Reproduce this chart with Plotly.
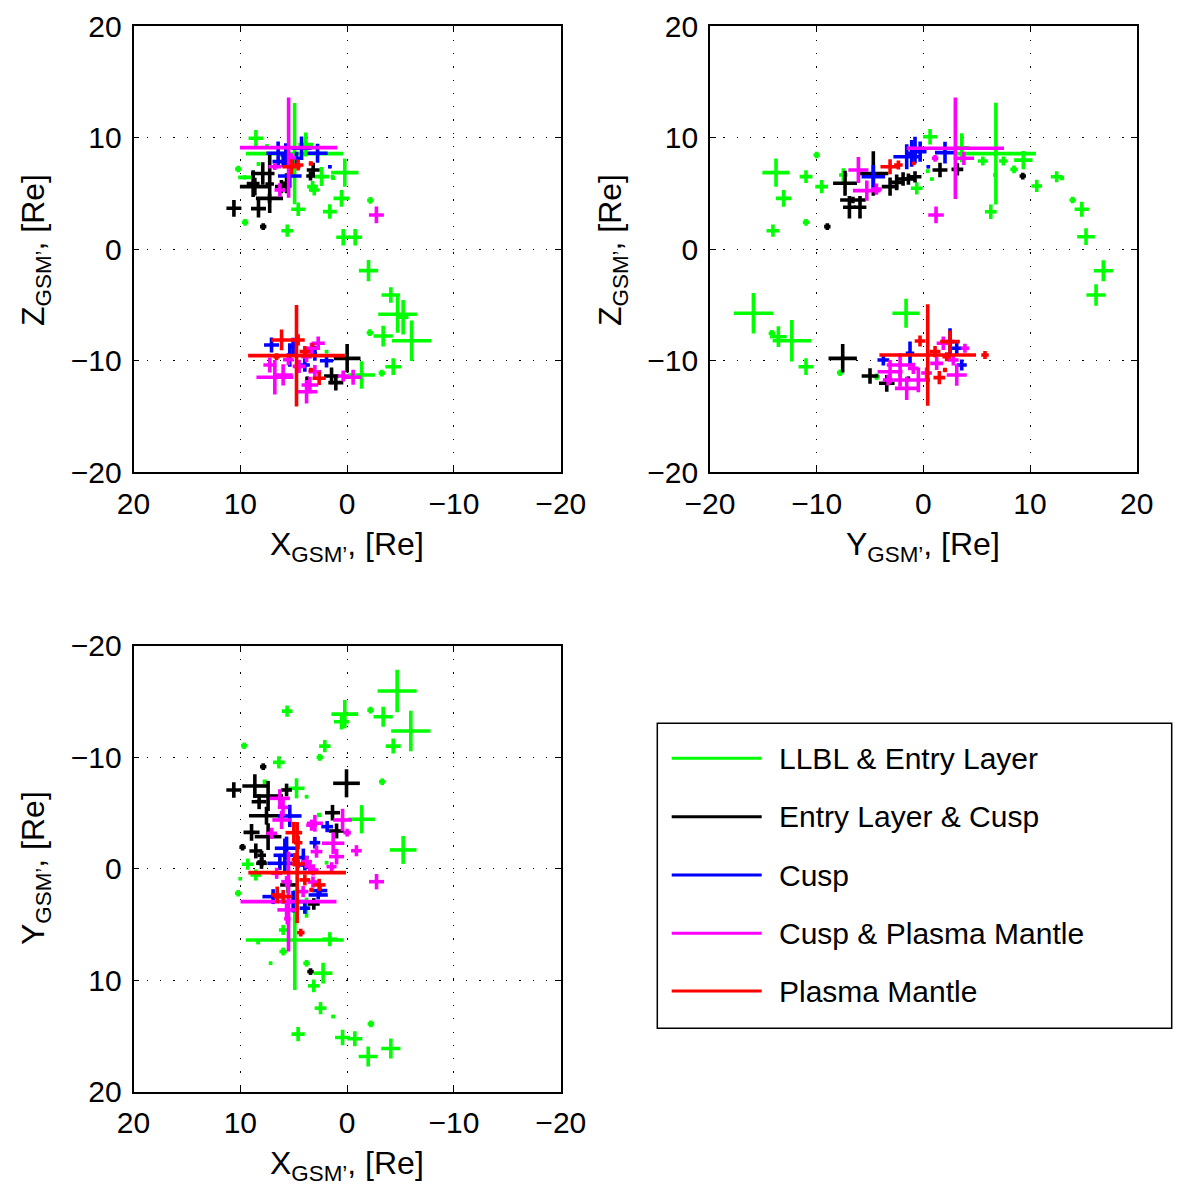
import plotly.graph_objects as go

# ---------------- categories ----------------
CATEGORIES = ["LLBL & Entry Layer", "Entry Layer & Cusp", "Cusp", "Cusp & Plasma Mantle", "Plasma Mantle"]
COLORS = ["#00FF00", "#000000", "#0000FF", "#FF00FF", "#FF0000"]
TICKS = [-20, -10, 0, 10, 20]

# ---------------- panel 1 : X vs Z  (x, z, dx, dz) ----------------
XZ_LLBL = [(8.54, 9.96, 0.69, 0.75), (4.92, 8.58, 4.55, 4.55), (3.87, 9.4, 0.7, 1.08), (0.22, 6.88, 1.28, 1.27),
           (0.53, 4.57, 0.75, 0.75), (1.62, 3.38, 0.65, 0.65), (4.58, 3.59, 0.65, 0.6), (5.61, 1.67, 0.55, 0.55),
           (9.56, 2.42, 0.3, 0.3), (10.19, 7.2, 0.3, 0.3), (-2.18, 4.39, 0.3, 0.3), (0.37, 1.08, 0.65, 0.75),
           (-0.75, 1.08, 0.65, 0.75), (-2.0, -1.91, 0.9, 0.95), (-4.09, -4.1, 0.87, 0.7), (-4.72, -5.83, 1.81, 1.65),
           (-5.24, -6.1, 0.5, 1.55), (-6.03, -8.2, 1.84, 1.82), (-3.37, -7.78, 0.9, 0.93), (-2.13, -7.48, 0.3, 0.3),
           (-4.31, -10.53, 0.73, 0.75), (-3.25, -11.1, 0.3, 0.3), (-1.35, -11.27, 1.25, 1.24), (1.93, -9.18, 0.15, 0.15),
           (2.4, 6.52, 0.7, 0.85), (3.24, 5.62, 0.5, 0.5), (3.08, 5.32, 0.5, 0.5), (8.3, 7.65, 0.15, 0.15),
           (7.5, 9.27, 0.15, 0.15), (1.37, 6.5, 0.15, 0.15), (9.6, 6.45, 0.6, 0.2), (1.31, 6.37, 0.15, 0.15)]
XZ_ELC = [(10.6, 3.68, 0.7, 0.75), (8.3, 3.65, 0.7, 0.8), (7.27, 4.57, 1.27, 0.4), (7.25, 5.85, 0.4, 2.6),
          (8.64, 5.62, 1.4, 0.8), (7.9, 6.8, 1.1, 1.0), (8.8, 5.9, 0.6, 1.2), (6.15, 5.62, 0.6, 0.6),
          (5.67, 5.92, 0.4, 0.9), (3.18, 7.11, 0.6, 0.65), (3.43, 6.57, 0.4, 0.4), (7.86, 2.03, 0.3, 0.3),
          (0.0, -9.78, 1.25, 1.28), (1.46, -11.36, 0.7, 0.75), (1.06, -11.96, 0.7, 0.7), (3.74, -11.57, 0.15, 0.15)]
XZ_CUSP = [(6.46, 8.61, 1.1, 1.05), (5.74, 8.46, 0.5, 1.05), (4.27, 9.06, 0.94, 1.05), (2.77, 8.61, 0.94, 0.85),
           (5.99, 7.86, 1.0, 0.5), (5.37, 6.57, 1.1, 1.05), (4.74, 8.16, 0.6, 0.6), (1.62, 7.41, 0.15, 0.15),
           (7.08, -8.58, 0.7, 0.67), (5.37, -9.48, 0.3, 1.05), (3.96, -10.38, 0.47, 0.6), (1.93, -9.99, 0.62, 0.6),
           (3.02, -9.33, 0.2, 0.67), (5.06, -8.73, 0.3, 0.8)]
XZ_CPM = [(5.48, 9.12, 4.55, 4.5), (6.3, 5.32, 0.5, 0.6), (6.77, 7.41, 0.6, 0.3), (5.2, 8.2, 0.4, 0.4),
          (-2.74, 3.08, 0.7, 0.75), (6.77, -11.48, 1.72, 1.55), (5.99, -11.27, 0.9, 0.95), (7.24, -10.38, 0.6, 0.67),
          (3.8, -12.77, 1.0, 1.05), (3.49, -12.17, 0.78, 0.75), (2.71, -8.43, 0.62, 0.6), (3.34, -8.88, 0.5, 0.5),
          (3.8, -9.63, 0.5, 0.5), (3.02, -10.98, 0.6, 0.6), (-0.56, -11.48, 0.78, 0.67), (0.37, -11.36, 0.5, 0.5),
          (4.5, -10.5, 0.6, 0.6), (5.5, -9.9, 0.5, 0.5)]
XZ_PM = [(5.21, 7.41, 0.85, 0.67), (4.59, 7.56, 0.5, 0.5), (3.4, 7.7, 0.2, 0.2), (4.74, -9.54, 4.53, 4.55),
         (6.14, -8.13, 0.94, 0.93), (4.59, -8.13, 0.62, 0.5), (6.61, -9.63, 0.3, 0.3), (3.96, -9.18, 0.5, 0.5),
         (3.4, -10.83, 0.2, 0.2), (2.62, -11.57, 0.62, 0.6), (3.24, -8.58, 0.15, 0.15)]

# ---------------- panel 2 : Y vs Z  (y, z, dy, dz) ----------------
YZ_LLBL = [(-13.81, 6.88, 1.28, 1.27), (-11.0, 6.52, 0.6, 0.57), (-10.0, 8.46, 0.3, 0.3), (-9.53, 5.62, 0.6, 0.6),
           (-13.1, 4.57, 0.73, 0.75), (-14.1, 1.67, 0.6, 0.55), (-11.0, 2.42, 0.3, 0.3), (-7.5, 6.66, 0.4, 0.6),
           (0.63, 10.1, 0.65, 0.7), (-0.62, 5.47, 0.55, 0.55), (0.4, 7.0, 0.15, 0.15), (0.8, 6.3, 0.15, 0.15),
           (6.8, 8.58, 3.75, 4.56), (3.6, 9.1, 0.7, 1.3), (5.57, 7.92, 0.47, 0.4), (7.5, 7.92, 0.4, 0.4),
           (8.5, 7.17, 0.35, 0.35), (9.37, 8.0, 0.86, 0.82), (6.72, 6.66, 0.15, 0.15), (6.32, 3.37, 0.55, 0.65),
           (10.63, 5.68, 0.5, 0.55), (12.5, 6.51, 0.55, 0.5), (13.0, 6.4, 0.2, 0.2), (14.0, 4.42, 0.3, 0.3),
           (14.85, 3.59, 0.67, 0.67), (15.25, 1.13, 0.83, 0.75), (16.87, -1.92, 0.9, 0.94), (16.19, -4.1, 0.9, 0.97),
           (-15.93, -5.74, 1.84, 1.82), (-12.33, -8.2, 1.8, 1.87), (-13.59, -7.84, 0.78, 0.93), (-14.2, -7.53, 0.3, 0.3),
           (-11.0, -10.53, 0.7, 0.75), (-7.8, -11.07, 0.3, 0.3), (-1.62, -5.74, 1.28, 1.3), (-4.37, -11.43, 0.3, 0.3)]
YZ_ELC = [(-4.69, 6.8, 1.41, 2.0), (-7.34, 5.92, 1.12, 1.12), (-6.6, 4.42, 1.2, 0.3), (-6.93, 3.77, 0.6, 1.0),
          (-5.94, 3.77, 0.6, 1.0), (-9.0, 2.03, 0.3, 0.3), (-3.12, 5.62, 0.78, 0.82), (-2.5, 6.0, 0.6, 0.7),
          (-1.9, 6.3, 0.6, 0.6), (-1.4, 6.3, 0.6, 0.5), (-0.78, 6.5, 0.6, 0.5), (1.56, 7.11, 0.7, 0.65),
          (3.19, 7.17, 0.55, 0.55), (9.32, 6.57, 0.3, 0.3), (-7.56, -9.78, 1.33, 1.28), (-5.0, -11.36, 0.78, 0.7),
          (-3.43, -12.02, 0.73, 0.75), (-1.4, -11.57, 0.15, 0.15)]
YZ_CUSP = [(-4.69, 6.51, 1.1, 1.05), (-1.56, 8.3, 1.25, 1.12), (-0.78, 8.9, 0.5, 1.2), (-1.09, 8.61, 0.5, 1.2),
           (-0.3, 8.76, 0.6, 0.9), (2.03, 8.67, 0.94, 0.97), (0.47, 7.41, 0.15, 0.15), (-3.75, -9.93, 0.55, 0.5),
           (-1.25, -9.33, 0.4, 1.05), (2.5, -8.28, 0.4, 1.2), (3.13, -8.88, 0.5, 0.5), (3.6, -10.38, 0.47, 0.5)]
YZ_CPM = [(3.0, 9.06, 4.56, 4.55), (1.19, 3.08, 0.73, 0.75), (3.8, 8.16, 0.95, 0.6), (1.1, 8.16, 0.3, 0.3),
          (-6.09, 7.11, 0.94, 1.17), (-5.3, 5.26, 1.3, 0.9), (-4.4, 5.4, 0.5, 0.5), (-1.56, -12.47, 1.1, 1.05),
          (-0.47, -11.72, 1.1, 1.1), (-3.12, -10.98, 1.17, 1.05), (-2.18, -10.38, 1.25, 1.05), (3.13, -11.27, 0.94, 0.97),
          (1.87, -8.43, 0.62, 0.6), (3.9, -8.88, 0.4, 0.4), (2.81, -9.93, 0.5, 0.5), (1.25, -10.23, 0.6, 0.6),
          (-0.94, -10.68, 0.5, 0.5), (0.3, -11.1, 0.5, 0.5), (-2.18, -11.72, 0.6, 0.6), (-3.3, -11.72, 0.5, 0.5)]
YZ_PM = [(-3.12, 7.41, 0.9, 0.67), (-2.34, 7.56, 0.4, 0.4), (-0.9, 7.7, 0.15, 0.15), (0.41, -9.48, 4.53, 4.55),
         (-0.31, -8.22, 0.5, 0.5), (2.5, -8.28, 0.92, 1.0), (1.1, -9.18, 0.5, 0.5), (2.19, -9.63, 0.4, 0.4),
         (5.78, -9.48, 0.35, 0.35), (2.03, -10.83, 0.2, 0.2), (1.5, -11.51, 0.55, 0.6)]

# ---------------- panel 3 : X vs Y  (x, y, dx, dy) ----------------
XY_LLBL = [(-4.68, -15.94, 1.83, 1.9), (-5.96, -12.35, 1.84, 1.82), (0.22, -13.87, 1.25, 1.27), (0.53, -13.18, 0.7, 0.7),
           (-3.37, -13.63, 0.9, 0.9), (-2.19, -14.23, 0.3, 0.3), (-4.31, -11.0, 0.7, 0.67), (5.62, -14.14, 0.5, 0.5),
           (9.64, -11.03, 0.3, 0.3), (2.09, -11.0, 0.53, 0.55), (2.56, -9.99, 0.3, 0.3), (6.39, -9.54, 0.55, 0.55),
           (-3.28, -7.8, 0.3, 0.3), (4.74, -7.21, 0.75, 0.9), (7.71, -7.8, 0.2, 0.2), (3.8, -6.46, 0.15, 0.15),
           (-1.35, -4.43, 1.25, 1.27), (2.62, -4.82, 0.2, 0.2), (-5.24, -1.68, 1.25, 1.25), (9.3, -0.4, 0.55, 0.5),
           (8.55, 0.57, 0.5, 0.5), (10.2, 2.21, 0.3, 0.3), (10.0, 0.9, 0.15, 0.15), (4.9, 6.4, 4.59, 4.5),
           (1.62, 6.33, 0.7, 0.63), (8.33, 6.63, 0.15, 0.15), (5.99, 5.5, 0.4, 0.45), (5.99, 7.44, 0.35, 0.35),
           (7.17, 8.49, 0.15, 0.15), (3.8, 8.49, 0.3, 0.3), (2.25, 9.38, 0.87, 0.93), (3.12, 10.52, 0.55, 0.57),
           (2.49, 12.52, 0.55, 0.55), (1.31, 13.27, 0.15, 0.15), (-2.22, 13.93, 0.3, 0.3), (4.59, 14.85, 0.62, 0.63),
           (0.43, 15.16, 0.7, 0.7), (-0.72, 15.27, 0.7, 0.67), (-1.97, 16.86, 0.89, 0.9), (-4.09, 16.14, 0.9, 0.9),
           (1.93, -0.54, 0.15, 0.15), (3.8, 3.5, 0.2, 0.9)]
XY_ELC = [(0.06, -7.66, 1.25, 1.26), (10.61, -7.06, 0.7, 0.7), (8.64, -7.42, 1.17, 1.05), (7.4, -6.52, 1.4, 1.35),
          (7.86, -9.15, 0.3, 0.3), (8.24, -6.01, 0.7, 0.67), (5.67, -7.06, 0.5, 0.57), (7.55, -4.75, 1.64, 0.8),
          (8.95, -3.26, 0.75, 0.75), (7.4, -2.87, 1.25, 1.2), (9.79, -1.92, 0.3, 0.3), (8.55, -1.59, 0.6, 0.67),
          (8.0, -1.2, 0.4, 0.4), (8.0, -0.6, 0.4, 0.4), (1.37, -5.02, 0.7, 0.7), (0.99, -3.38, 0.7, 0.67),
          (8.02, -0.48, 0.5, 0.5), (5.52, 1.46, 0.75, 0.75), (3.12, 3.17, 0.55, 0.52), (3.43, 9.24, 0.3, 0.3)]
XY_CUSP = [(5.37, -4.73, 1.1, 1.0), (5.67, -1.83, 1.1, 1.05), (3.02, -2.33, 0.5, 0.52), (1.87, -3.77, 0.55, 0.5),
           (4.1, -1.0, 0.5, 0.8), (6.3, -0.48, 1.17, 0.6), (5.83, -1.2, 1.06, 1.5), (6.93, 2.51, 1.0, 0.67),
           (5.06, 2.96, 1.1, 0.97), (2.56, 1.97, 0.7, 0.5), (3.96, 3.55, 0.5, 0.5), (3.96, -0.33, 0.5, 0.5),
           (2.71, 2.36, 0.9, 0.4)]
XY_CPM = [(5.49, 2.96, 4.49, 4.48), (-2.75, 1.17, 0.7, 0.69), (5.67, 3.7, 0.86, 0.82), (3.5, -0.2, 0.5, 0.5),
          (1.46, -0.18, 0.47, 0.4), (4.12, 2.06, 0.5, 0.5), (3.2, 1.2, 0.5, 0.5), (6.3, -6.31, 0.94, 0.82),
          (6.14, -4.37, 0.86, 0.82), (3.02, -4.07, 0.75, 0.75), (0.43, -4.37, 0.87, 1.0), (0.0, -3.23, 0.35, 0.35),
          (1.31, -2.28, 1.05, 0.97), (-0.87, -1.61, 0.5, 0.5), (0.99, -1.08, 0.7, 0.7), (2.87, -1.53, 0.55, 0.55),
          (3.33, -3.9, 0.5, 0.5), (7.07, -3.17, 0.5, 0.5), (6.6, 0.42, 0.5, 0.5), (5.67, 1.17, 0.5, 0.5),
          (3.18, 0.12, 0.5, 0.5), (3.8, -0.63, 0.5, 0.5), (6.0, -5.5, 0.5, 0.8), (5.6, 4.5, 0.3, 0.5)]
XY_PM = [(4.68, 0.36, 4.57, 4.54), (4.99, -3.23, 0.78, 0.97), (4.59, -2.33, 0.4, 0.6), (4.9, -0.8, 0.3, 0.6),
         (4.59, -0.42, 0.62, 0.4), (3.96, 1.01, 0.5, 0.5), (2.62, 1.46, 0.6, 0.55), (3.34, 1.91, 0.2, 0.2),
         (6.55, 2.36, 0.55, 0.75), (5.99, 2.51, 0.85, 0.6), (4.34, 5.74, 0.35, 0.35)]

PANEL_XZ = [XZ_LLBL, XZ_ELC, XZ_CUSP, XZ_CPM, XZ_PM]
PANEL_YZ = [YZ_LLBL, YZ_ELC, YZ_CUSP, YZ_CPM, YZ_PM]
PANEL_XY = [XY_LLBL, XY_ELC, XY_CUSP, XY_CPM, XY_PM]

FONT = "Liberation Sans, Arial, Helvetica, sans-serif"
W, H = 1188, 1193

fig = go.Figure()


def add_panel(groups, xa, ya):
    for rows, color in zip(groups, COLORS):
        xs = [r[0] for r in rows]
        ys = [r[1] for r in rows]
        ex = [r[2] for r in rows]
        ey = [r[3] for r in rows]
        fig.add_trace(go.Scatter(
            x=xs, y=ys, mode="markers", xaxis=xa, yaxis=ya, showlegend=False,
            marker=dict(size=2, color=color, opacity=0),
            error_x=dict(type="data", array=ex, symmetric=True, color=color, thickness=3.6, width=0),
            error_y=dict(type="data", array=ey, symmetric=True, color=color, thickness=3.6, width=0),
            hoverinfo="skip"))


add_panel(PANEL_XZ, "x", "y")
add_panel(PANEL_YZ, "x2", "y2")
add_panel(PANEL_XY, "x3", "y3")


def px_x(p):
    return p / W


def px_y(p):
    return (H - p) / H


axis_common = dict(
    tickvals=TICKS, ticktext=[("\u2212" + str(-t)) if t < 0 else str(t) for t in TICKS],
    showgrid=True, gridcolor="black", gridwidth=1.3, griddash="1.3px,12px",
    zeroline=False, showline=True, linecolor="black", linewidth=1.6,
    mirror="allticks", ticks="inside", ticklen=6, tickwidth=1.3, tickcolor="black",
    tickfont=dict(family=FONT, size=30, color="black"), fixedrange=True, automargin=False,
)

dom_x_left = [px_x(133.5), px_x(560.8)]
dom_x_right = [px_x(710.0), px_x(1136.7)]
dom_y_top = [px_y(472.3), px_y(26.3)]
dom_y_bot = [px_y(1091.5), px_y(645.8)]

fig.update_layout(
    width=W, height=H, margin=dict(l=0, r=0, t=0, b=0, autoexpand=False),
    paper_bgcolor="white", plot_bgcolor="white",
    xaxis=dict(domain=dom_x_left, range=[20, -20], anchor="y", ticklabelstandoff=4, **axis_common),
    yaxis=dict(domain=dom_y_top, range=[-20, 20], anchor="x", ticklabelstandoff=4, **axis_common),
    xaxis2=dict(domain=dom_x_right, range=[-20, 20], anchor="y2", ticklabelstandoff=4, **axis_common),
    yaxis2=dict(domain=dom_y_top, range=[-20, 20], anchor="x2", ticklabelstandoff=4, **axis_common),
    xaxis3=dict(domain=dom_x_left, range=[20, -20], anchor="y3", ticklabelstandoff=4, **axis_common),
    yaxis3=dict(domain=dom_y_bot, range=[20, -20], anchor="x3", ticklabelstandoff=4, **axis_common),
)

ann = []
lab_font = dict(family=FONT, size=32, color="black")
for text, x, y, ang in [
    ("X<sub>GSM\u2019</sub>, [Re]", 347, 546, 0),
    ("Y<sub>GSM\u2019</sub>, [Re]", 923, 546, 0),
    ("X<sub>GSM\u2019</sub>, [Re]", 347, 1165, 0),
    ("Z<sub>GSM\u2019</sub>, [Re]", 35, 250, -90),
    ("Z<sub>GSM\u2019</sub>, [Re]", 612, 250, -90),
    ("Y<sub>GSM\u2019</sub>, [Re]", 35, 868, -90),
]:
    ann.append(dict(text=text, x=px_x(x), y=px_y(y), xref="paper", yref="paper",
                    xanchor="center", yanchor="middle", textangle=ang, showarrow=False, font=lab_font))

# manual legend (box, line samples, labels)
shapes = [dict(type="rect", xref="paper", yref="paper", x0=px_x(657.3), x1=px_x(1171.7),
               y0=px_y(1028.3), y1=px_y(723.3), line=dict(color="black", width=1.5), fillcolor="white", layer="above")]
row_y = [758.3, 816.7, 875.0, 933.3, 991.0]
for name, color, ry in zip(CATEGORIES, COLORS, row_y):
    shapes.append(dict(type="line", xref="paper", yref="paper", x0=px_x(671.7), x1=px_x(761.7),
                       y0=px_y(ry), y1=px_y(ry), line=dict(color=color, width=3), layer="above"))
    ann.append(dict(text=name, x=px_x(777), y=px_y(ry), xref="paper", yref="paper",
                    xanchor="left", yanchor="middle", showarrow=False,
                    font=dict(family=FONT, size=30, color="black")))

fig.update_layout(annotations=ann, shapes=shapes)
fig.write_html("out.html")
